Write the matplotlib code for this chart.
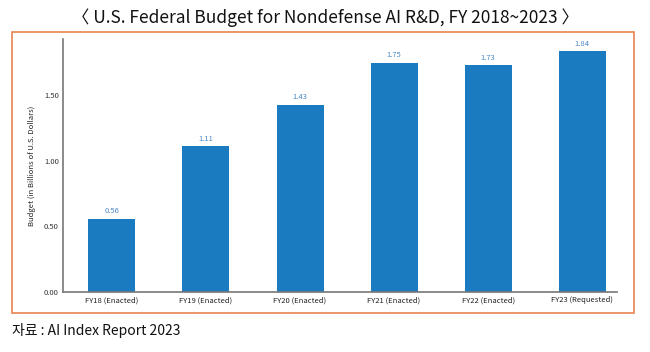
import matplotlib.pyplot as plt
from matplotlib.patches import Rectangle

plt.rcParams['font.family'] = ['Noto Sans CJK KR', 'DejaVu Sans']

years = ['FY18 (Enacted)', 'FY19 (Enacted)', 'FY20 (Enacted)', 'FY21 (Enacted)',
         'FY22 (Enacted)', 'FY23 (Requested)']
budget = [0.56, 1.11, 1.43, 1.75, 1.73, 1.84]
yticks = [0.0, 0.5, 1.0, 1.5]

bar_color = '#1b7bc0'

fig = plt.figure(figsize=(6.5, 3.52), dpi=100)

# orange frame around the chart
fig.patches.append(Rectangle((12 / 650, 1 - 313 / 352), 622 / 650, 281 / 352,
                             transform=fig.transFigure, fill=False,
                             edgecolor='#e8854f', linewidth=1.2))

ax = fig.add_axes([63 / 650, 60 / 352, 554 / 650, 253 / 352])
x = range(len(years))
ax.bar(x, budget, width=0.5, color=bar_color)
for i, v in enumerate(budget):
    ax.text(i, v + 0.025, '%.2f' % v, ha='center', va='bottom',
            fontsize=5.5, color='#4a8ac6')

ax.set_xlim(-0.52, 5.37)
ax.set_ylim(0, 1.93)
ax.set_xticks(list(x))
ax.set_xticklabels(years, fontsize=5.5, color='#222222')
ax.set_yticks(yticks)
ax.set_yticklabels(['%.2f' % t for t in yticks], fontsize=5.5, color='#333333')
ax.tick_params(length=0, pad=3)
ax.set_ylabel('Budget (in Billions of U.S. Dollars)', fontsize=5.5, color='#222222', labelpad=6)
for s in ['top', 'right']:
    ax.spines[s].set_visible(False)
for s in ['left', 'bottom']:
    ax.spines[s].set_color('#777777')
    ax.spines[s].set_linewidth(1.2)

fig.text(0.5, 1 - 18 / 352, '〈 U.S. Federal Budget for Nondefense AI R&D, FY 2018~2023 〉',
         ha='center', va='center', fontsize=12.5, color='#111111')
fig.text(12 / 650, 1 - 331 / 352, '자료 : AI Index Report 2023',
         ha='left', va='center', fontsize=10, color='#111111')

fig.savefig('out.png', dpi=100)
